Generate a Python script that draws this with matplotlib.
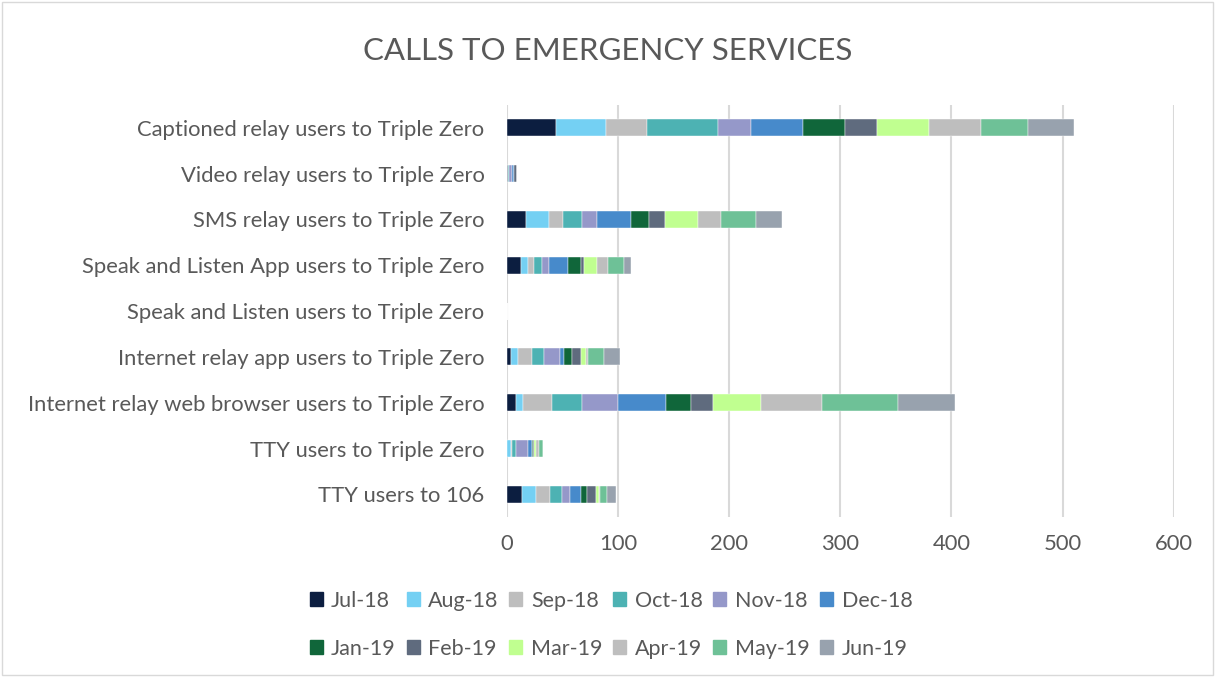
import matplotlib.pyplot as plt
import matplotlib.patches as mpatches
import numpy as np

plt.rcParams['font.family'] = ['Lato', 'DejaVu Sans']

categories = ['Captioned relay users to Triple Zero',
              'Video relay users to Triple Zero',
              'SMS relay users to Triple Zero',
              'Speak and Listen App users to Triple Zero',
              'Speak and Listen users to Triple Zero',
              'Internet relay app users to Triple Zero',
              'Internet relay web browser users to Triple Zero',
              'TTY users to Triple Zero',
              'TTY users to 106']

months = ['Jul-18', 'Aug-18', 'Sep-18', 'Oct-18', 'Nov-18', 'Dec-18',
          'Jan-19', 'Feb-19', 'Mar-19', 'Apr-19', 'May-19', 'Jun-19']

# one list per category, values per month (Jul-18 .. Jun-19)
captioned = [44, 45, 37, 64, 30, 47, 37, 29, 47, 47, 42, 41]
video = [1, 0, 0, 1, 3, 2, 0, 2, 0, 0, 0, 0]
sms = [17, 21, 13, 17, 13, 31, 16, 14, 30, 21, 31, 24]
sl_app = [13, 6, 6, 7, 6, 17, 12, 3, 11, 10, 15, 6]
sl = [0, 0, 0, 0, 0, 0, 0, 0, 0, 0, 0, 0]
ir_app = [4, 6, 13, 11, 14, 4, 7, 8, 4, 2, 15, 14]
ir_web = [8, 7, 26, 27, 32, 43, 23, 20, 43, 55, 68, 51]
tty_000 = [0, 4, 1, 3, 11, 4, 1, 1, 1, 3, 4, 0]
tty_106 = [14, 12, 13, 11, 7, 10, 5, 8, 3, 1, 6, 8]

colors = ['#0C1E40', '#74D0F3', '#BEBEBE', '#4DB2B3', '#9598C9', '#478ACB',
          '#10663A', '#5F6B7E', '#C0FF90', '#BEBEBE', '#6EC197', '#98A2AE']

data = np.array([captioned, video, sms, sl_app, sl, ir_app, ir_web, tty_000, tty_106])

fig = plt.figure(figsize=(12.15, 6.77), dpi=100)
ax = fig.add_axes([0.417, 0.236, 0.549, 0.609])

y = np.arange(len(categories))
left = np.zeros(len(categories))
for i, m in enumerate(months):
    ax.barh(y, data[:, i], left=left, height=0.37, color=colors[i], label=m,
            edgecolor='white', linewidth=0.3, zorder=3)
    left += data[:, i]

ax.set_xlim(0, 600)
ax.set_ylim(len(categories) - 0.5, -0.5)
ax.set_xticks(np.arange(0, 601, 100))
ax.set_yticks(y)
ax.set_yticklabels(categories)
ax.grid(axis='x', color='#D9D9D9', linewidth=1.5, zorder=0)
for s in ax.spines.values():
    s.set_visible(False)
ax.tick_params(length=0, labelsize=15.8, colors='#595959', pad=22)
ax.tick_params(axis='y', pad=16)
ax.tick_params(axis='x', pad=12)

fig.text(0.5, 0.925, 'CALLS TO EMERGENCY SERVICES', ha='center', va='center',
         fontsize=22.5, color='#595959')

# legend fills column-first, so reorder to read across rows
ncol = 6
order = [r * ncol + c for c in range(ncol) for r in range(2)]
handles = [mpatches.Patch(color=colors[k]) for k in order]
labels = [months[k] for k in order]
fig.legend(handles, labels, loc='center', bbox_to_anchor=(0.503, 0.0775), ncol=ncol,
           frameon=False, fontsize=15.5, labelcolor='#595959',
           handlelength=0.6, handleheight=0.6, handletextpad=0.4,
           columnspacing=0.5, labelspacing=1.3)

fig.patches.append(mpatches.Rectangle((0.002, 0.003), 0.996, 0.994, transform=fig.transFigure,
                                      fill=False, edgecolor='#D9D9D9', linewidth=1))

fig.savefig('out.png', dpi=100)
